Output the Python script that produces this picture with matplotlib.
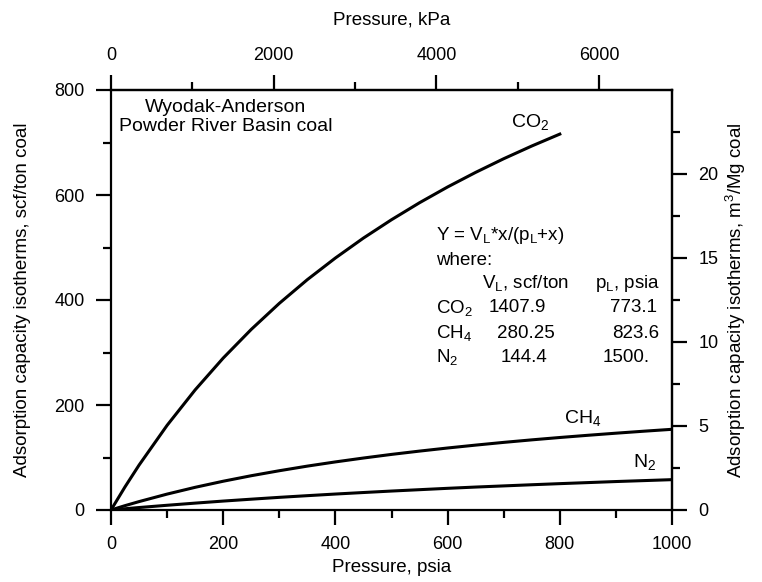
import matplotlib
matplotlib.use("Agg")
import matplotlib.pyplot as plt

plt.rcParams['font.family'] = ['Liberation Sans', 'DejaVu Sans']
plt.rcParams['mathtext.fontset'] = 'custom'
plt.rcParams['mathtext.rm'] = 'Liberation Sans'
plt.rcParams['mathtext.it'] = 'Liberation Sans:italic'
plt.rcParams['mathtext.default'] = 'regular'

# Pressure (psia) sample points and adsorbed volumes (scf/ton)
p_co2 = [0, 25, 50, 100, 150, 200, 250, 300, 350, 400, 450, 500, 550, 600, 650, 700, 750, 800]
v_co2 = [0, 44.1, 85.5, 161.3, 228.8, 289.4, 344.0, 393.6, 438.8, 480.0, 518.0, 552.9, 585.3,
         615.3, 643.1, 669.1, 693.3, 716.0]
p_other = [0, 25, 50, 100, 150, 200, 250, 300, 350, 400, 450, 500, 550, 600, 650, 700, 750,
           800, 850, 900, 950, 1000]
v_ch4 = [0, 8.3, 16.0, 30.3, 43.2, 54.8, 65.3, 74.8, 83.6, 91.6, 99.0, 105.9, 112.2, 118.1,
         123.6, 128.8, 133.6, 138.1, 142.3, 146.3, 150.1, 153.7]
v_n2 = [0, 2.4, 4.7, 9.0, 13.1, 17.0, 20.6, 24.1, 27.3, 30.4, 33.3, 36.1, 38.7, 41.3, 43.7,
        45.9, 48.1, 50.2, 52.2, 54.2, 56.0, 57.8]

PSI_TO_KPA = 6.894757
SCFTON_TO_M3MG = 0.0283168 / 0.907185

fig = plt.figure(figsize=(7.62, 5.82), dpi=100)
ax = fig.add_axes([111/762, 1 - 510/582, 561/762, 420/582])

lw = 2.2
ax.plot(p_co2, v_co2, color='black', lw=lw)
ax.plot(p_other, v_ch4, color='black', lw=lw)
ax.plot(p_other, v_n2, color='black', lw=lw)

ax.set_xlim(0, 1000)
ax.set_ylim(0, 800)
ax.set_xticks([0, 200, 400, 600, 800, 1000])
ax.set_xticks([100, 300, 500, 700, 900], minor=True)
ax.set_yticks([0, 200, 400, 600, 800])
ax.set_yticks([100, 300, 500, 700], minor=True)

for s in ax.spines.values():
    s.set_linewidth(1.6)

tfs = 13
lfs = 13.5
fs = 14
tick_kw = dict(direction='out', width=1.6, labelsize=tfs, pad=8)
ax.tick_params(which='major', length=11, **tick_kw)
ax.tick_params(which='minor', length=6, width=1.6, direction='out')

ax.set_xlabel('Pressure, psia', fontsize=lfs, labelpad=4)
ax.set_ylabel('Adsorption capacity isotherms, scf/ton coal', fontsize=lfs, labelpad=17)

top = ax.secondary_xaxis('top', functions=(lambda x: x * PSI_TO_KPA, lambda x: x / PSI_TO_KPA))
top.set_xticks([0, 2000, 4000, 6000])
top.set_xticks([1000, 3000, 5000], minor=True)
top.tick_params(which='major', length=11, **tick_kw)
top.tick_params(which='minor', length=6, width=1.6, direction='out')
top.set_xlabel('Pressure, kPa', fontsize=lfs, labelpad=16)
top.spines['top'].set_linewidth(1.6)

right = ax.secondary_yaxis('right', functions=(lambda y: y * SCFTON_TO_M3MG, lambda y: y / SCFTON_TO_M3MG))
right.set_yticks([0, 5, 10, 15, 20])
right.set_yticks([2.5, 7.5, 12.5, 17.5, 22.5], minor=True)
right.tick_params(which='major', length=11, **tick_kw)
right.tick_params(which='minor', length=6, width=1.6, direction='out')
right.set_ylabel('Adsorption capacity isotherms, m$^{3}$/Mg coal', fontsize=lfs, labelpad=4)
right.spines['right'].set_linewidth(1.6)

ax.text(204, 749, 'Wyodak-Anderson\nPowder River Basin coal', fontsize=fs,
        va='center', ha='center', multialignment='center', linespacing=1.15)

ax.text(713, 739, 'CO$_2$', fontsize=fs, va='center', ha='left')
ax.text(807, 175, 'CH$_4$', fontsize=fs, va='center', ha='left')
ax.text(930, 91, 'N$_2$', fontsize=fs, va='center', ha='left')

ts = 13.5
ax.text(579, 522, 'Y = V$_L$*x/(p$_L$+x)', fontsize=ts, va='center', ha='left')
ax.text(579, 476, 'where:', fontsize=ts, va='center', ha='left')
ax.text(661, 432, 'V$_L$, scf/ton', fontsize=ts, va='center', ha='left')
ax.text(863, 432, 'p$_L$, psia', fontsize=ts, va='center', ha='left')
ax.text(579, 385, 'CO$_2$', fontsize=ts, va='center', ha='left')
ax.text(674, 385, '1407.9', fontsize=ts, va='center', ha='left')
ax.text(973, 385, '773.1', fontsize=ts, va='center', ha='right')
ax.text(579, 337, 'CH$_4$', fontsize=ts, va='center', ha='left')
ax.text(688, 337, '280.25', fontsize=ts, va='center', ha='left')
ax.text(977, 337, '823.6', fontsize=ts, va='center', ha='right')
ax.text(579, 291, 'N$_2$', fontsize=ts, va='center', ha='left')
ax.text(695, 291, '144.4', fontsize=ts, va='center', ha='left')
ax.text(877, 291, '1500.', fontsize=ts, va='center', ha='left')

fig.savefig('out.png', dpi=100)
